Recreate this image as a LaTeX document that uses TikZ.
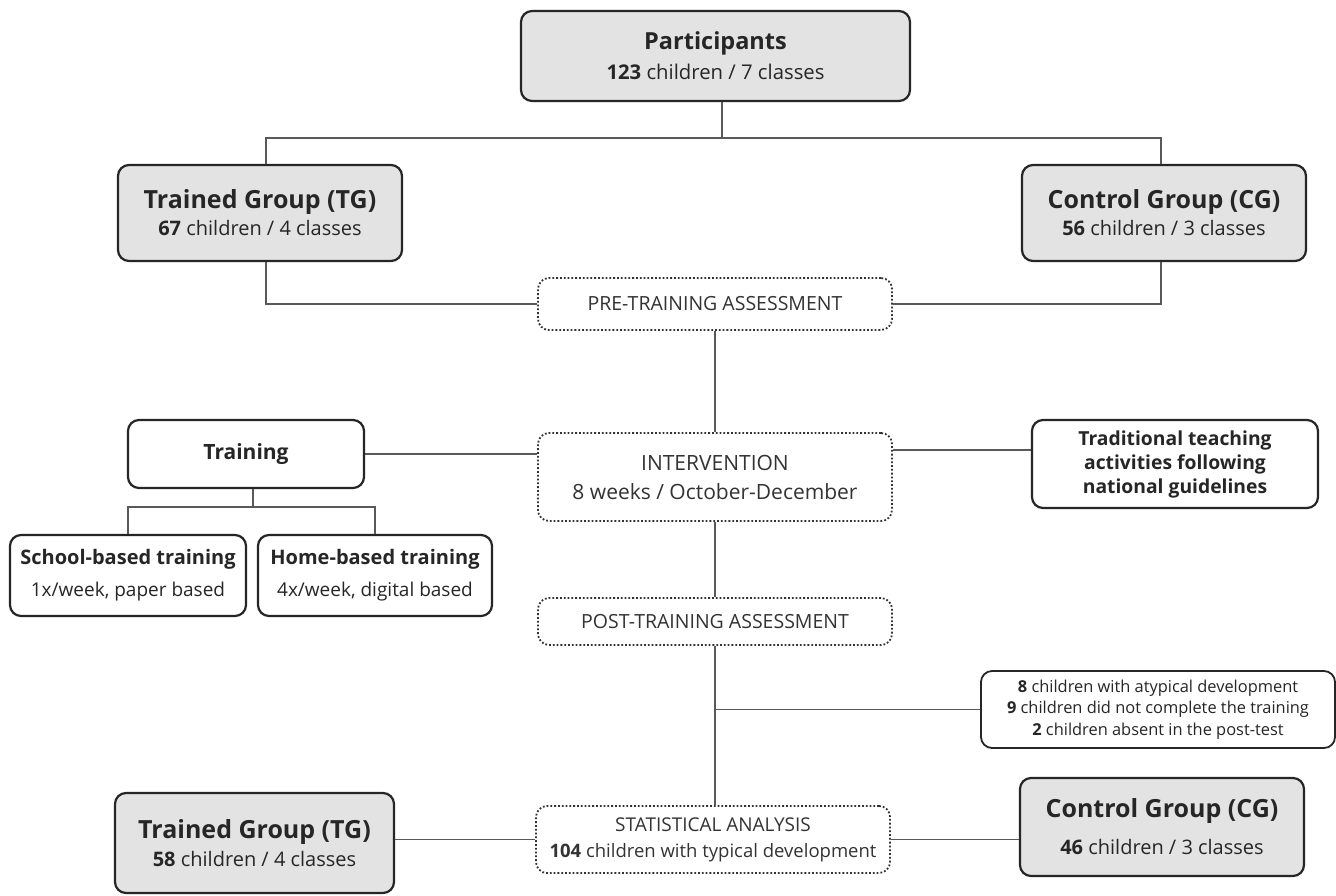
\documentclass[tikz,border=0pt]{standalone}
\usepackage{fontspec}
\setmainfont{Open Sans}
\begin{document}
\begin{tikzpicture}[x=1pt,y=-1pt,
  base/.style={line width=2.2pt, draw=black!85, rounded corners=11pt, inner sep=0pt, align=center, text=black!85},
  gbox/.style={base, fill=black!11},
  wbox/.style={base, fill=white},
  dbox/.style={line width=1.8pt, draw=black!80, dotted, rounded corners=11pt, inner sep=0pt, align=center, text=black!80, fill=white},
  conn/.style={draw=black!65, line width=1.3pt},
  gttl/.style={font=\fontsize{20}{27}\selectfont}
]
\useasboundingbox[fill=white] (0,0) rectangle (1336,895);

% nodes
\node[gbox, minimum width=389pt, minimum height=90pt, font=\fontsize{20.3}{30}\selectfont] (part) at (715.5,56)
  {{\fontsize{23.5}{30}\selectfont\bfseries Participants}\\\textbf{123} children / 7 classes};
\node[gbox, minimum width=284pt, minimum height=96pt, gttl] (tg) at (260,213)
  {{\fontsize{25}{29}\selectfont\bfseries Trained Group (TG)}\\\textbf{67} children / 4 classes};
\node[gbox, minimum width=284pt, minimum height=96pt, gttl] (cg) at (1164,213)
  {{\fontsize{25}{29}\selectfont\bfseries Control Group (CG)}\\\textbf{56} children / 3 classes};

\node[dbox, minimum width=354pt, minimum height=52pt, font=\fontsize{19.5}{24}\selectfont] (pre) at (715,304) {PRE-TRAINING ASSESSMENT};
\node[dbox, minimum width=354pt, minimum height=88pt, font=\fontsize{21}{29}\selectfont] (int) at (715,477) {INTERVENTION\\8 weeks / October-December};

\node[wbox, minimum width=236pt, minimum height=68pt, font=\fontsize{21}{25}\selectfont\bfseries] (train) at (246,454) {Training};
\node[wbox, minimum width=286pt, minimum height=88pt, font=\fontsize{19.3}{24}\selectfont\bfseries] (trad) at (1175,464)
  {Traditional teaching\\activities following\\national guidelines};

\node[wbox, minimum width=236pt, minimum height=81pt, font=\fontsize{19}{24}\selectfont] (school) at (128,575.5)
  {\fontsize{20}{24}\selectfont\bfseries School-based training\\[8pt]1x/week, paper based};
\node[wbox, minimum width=234pt, minimum height=81pt, font=\fontsize{19}{24}\selectfont] (home) at (375,575.5)
  {\fontsize{20}{24}\selectfont\bfseries Home-based training\\[8pt]4x/week, digital based};

\node[dbox, minimum width=354pt, minimum height=47pt, font=\fontsize{19.5}{24}\selectfont] (post) at (715,621.5) {POST-TRAINING ASSESSMENT};

\node[wbox, minimum width=354pt, minimum height=77pt, font=\fontsize{16.4}{21.5}\selectfont, line width=1.8pt] (excl) at (1158,709.5)
  {\textbf{8} children with atypical development\\\textbf{9} children did not complete the training\\\textbf{2} children absent in the post-test};

\node[dbox, minimum width=354pt, minimum height=67pt, font=\fontsize{18.5}{26}\selectfont] (stat) at (713,839.5)
  {{\fontsize{19}{26}\selectfont STATISTICAL ANALYSIS}\\\textbf{104} children with typical development};

\node[gbox, minimum width=279pt, minimum height=100pt, gttl] (tg2) at (254.5,843)
  {{\fontsize{25}{29}\selectfont\bfseries Trained Group (TG)}\\[1pt]\textbf{58} children / 4 classes};
\node[gbox, minimum width=284pt, minimum height=98pt, gttl] (cg2) at (1162,827)
  {{\fontsize{25}{29}\selectfont\bfseries Control Group (CG)}\\[10pt]\textbf{46} children / 3 classes};

% connectors
\coordinate (hL) at (266,138);
\coordinate (hR) at (1161,138);
\coordinate (hM) at (722,138);
\coordinate (tb) at (253,507);
\draw[conn] (part.south -| hM) -- (hM);
\draw[conn] (tg.north -| hL) -- (hL) -- (hR) -- (cg.north -| hR);
\draw[conn] (tg.south -| hL) |- (pre.west);
\draw[conn] (cg.south -| hR) |- (pre.east);
\draw[conn] (pre.south) -- (int.north);
\draw[conn] (train.east) -- (train.east -| int.west);
\draw[conn] ([yshift=14pt]trad.west) -- ([yshift=14pt]trad.west -| int.east);
\draw[conn] (train.south -| tb) -- (tb);
\draw[conn] (school.north) |- (home.north |- tb) -- (home.north);
\draw[conn] (int.south) -- (post.north);
\draw[conn] (post.south) -- (post.south |- stat.north);
\draw[conn] (excl.west) -- (excl.west -| post.south);
\draw[conn] (stat.west) -- (stat.west -| tg2.east);
\draw[conn] (stat.east) -- (stat.east -| cg2.west);
\end{tikzpicture}
\end{document}
